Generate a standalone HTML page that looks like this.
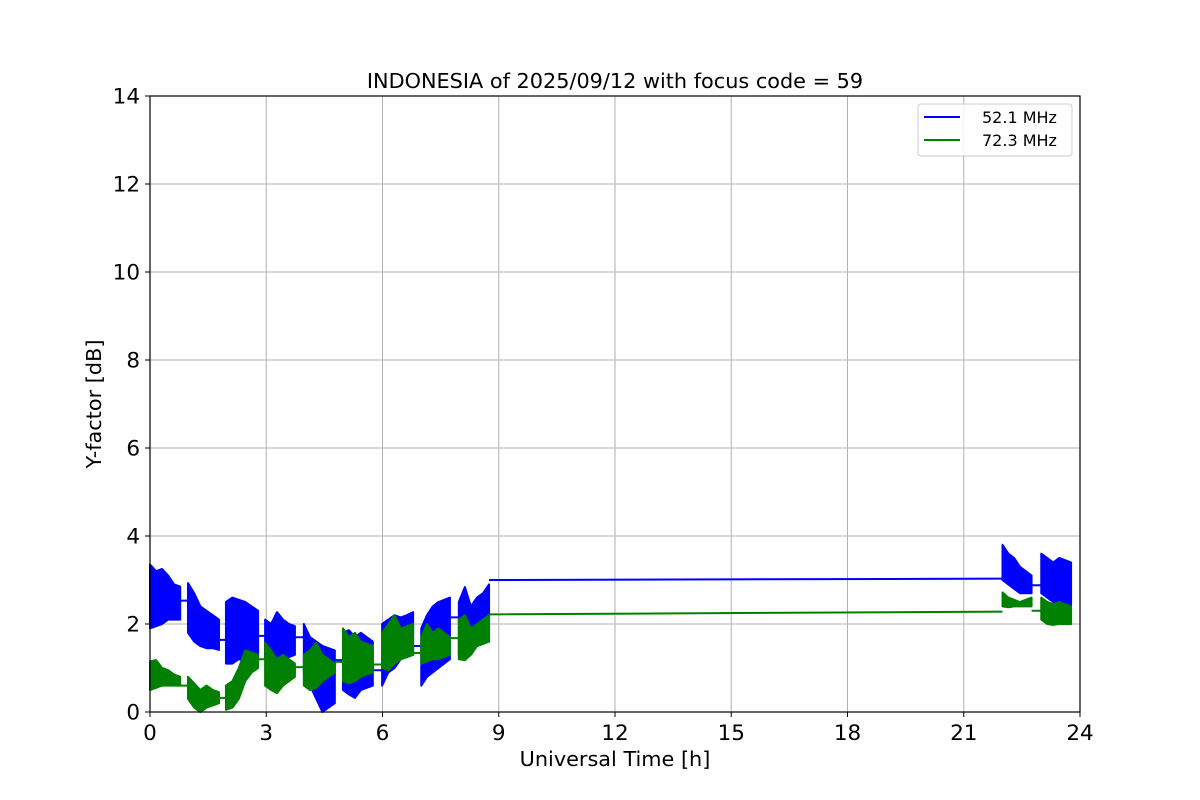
<!DOCTYPE html>
<html><head><meta charset="utf-8"><style>
body{margin:0;background:#fff;}
svg{display:block;font-family:"DejaVu Sans","Liberation Sans",sans-serif;}
</style></head><body>
<svg id="chart" width="1200" height="800" viewBox="0 0 1200 800">
<rect width="1200" height="800" fill="#fff"/>
<g id="grid"></g>
<g id="series"></g>
<rect x="150" y="96" width="930" height="616" fill="none" stroke="#000" stroke-width="1.2"/>
<g id="axes"></g>
<text x="615" y="88" font-size="20.8" text-anchor="middle">INDONESIA of 2025/09/12 with focus code = 59</text>
<text x="615" y="766" font-size="20.8" text-anchor="middle">Universal Time [h]</text>
<text x="101" y="404" font-size="20.8" text-anchor="middle" transform="rotate(-90 101 404)">Y-factor [dB]</text>
<g>
<rect x="918" y="104" width="154" height="52" rx="3" fill="#fff" fill-opacity="0.8" stroke="#ccc"/>
<line x1="924" y1="117" x2="960" y2="117" stroke="#0000ff" stroke-width="2"/>
<text x="982" y="123" font-size="16">52.1 MHz</text>
<line x1="924" y1="140" x2="960" y2="140" stroke="#008000" stroke-width="2"/>
<text x="982" y="146" font-size="16">72.3 MHz</text>
</g>
</svg>
<script>
const xTicks=[0,3,6,9,12,15,18,21,24];
const yTicks=[0,2,4,6,8,10,12,14];
const blockStart=[0,0.98,1.96,2.97,3.97,4.98,5.99,7.0,7.97,22.0,23.0];
const blockEnd=[0.78,1.78,2.79,3.74,4.77,5.75,6.79,7.74,8.75,22.75,23.77];
const blueHi=[[3.35,3.2,3.25,3.1,2.9,2.85],[2.93,2.7,2.4,2.3,2.2,2.1],[2.5,2.6,2.55,2.5,2.4,2.3],[2.1,2.0,2.27,2.1,2.0,1.95],[2.0,1.7,1.6,1.5,1.45,1.4],[1.8,1.86,1.7,1.8,1.7,1.6],[2.0,2.1,2.2,2.15,2.2,2.27],[1.9,2.2,2.4,2.5,2.55,2.6],[2.5,2.84,2.4,2.6,2.7,2.9],[3.8,3.6,3.5,3.3,3.2,3.1],[3.6,3.5,3.4,3.5,3.45,3.4]];
const blueLo=[[1.9,1.95,2.0,2.1,2.1,2.1],[1.8,1.6,1.5,1.45,1.45,1.41],[1.1,1.1,1.2,1.15,1.1,1.15],[1.2,1.1,1.15,1.2,1.25,1.3],[0.9,0.6,0.3,0.0,0.1,0.2],[0.5,0.4,0.32,0.5,0.55,0.6],[0.6,0.9,1.0,1.2,1.25,1.3],[0.6,0.8,0.9,1.0,1.1,1.2],[1.3,1.25,1.4,1.5,1.55,1.6],[3.0,2.9,2.8,2.7,2.7,2.7],[2.7,2.6,2.5,2.45,2.45,2.43]];
const blueGapFrom=[2.53,1.64,1.73,1.7,1.18,0.95,1.5,2.15,3.0,2.88];
const blueGapTo=[2.53,1.64,1.73,1.7,1.18,0.95,1.5,2.15,3.03,2.88];
const greenHi=[[1.15,1.18,1.0,0.95,0.85,0.8],[0.8,0.65,0.5,0.6,0.5,0.45],[0.6,0.7,1.0,1.4,1.35,1.3],[1.57,1.4,1.2,1.3,1.2,1.1],[1.3,1.4,1.57,1.3,1.2,1.1],[1.9,1.7,1.8,1.6,1.55,1.5],[1.8,2.0,2.2,1.9,1.95,2.0],[1.7,2.0,1.8,1.9,1.8,1.7],[2.1,2.2,1.9,2.0,2.1,2.2],[2.72,2.6,2.55,2.5,2.55,2.6],[2.6,2.5,2.45,2.5,2.45,2.4]];
const greenLo=[[0.5,0.55,0.6,0.6,0.6,0.6],[0.3,0.1,0.0,0.1,0.15,0.2],[0.05,0.1,0.3,0.7,0.9,1.0],[0.6,0.5,0.43,0.6,0.7,0.8],[0.6,0.5,0.55,0.7,0.8,0.9],[0.7,0.65,0.7,0.8,0.85,0.9],[1.0,0.95,1.1,1.2,1.25,1.3],[1.1,1.15,1.2,1.2,1.25,1.3],[1.2,1.18,1.3,1.5,1.55,1.6],[2.4,2.38,2.4,2.4,2.4,2.4],[2.1,2.0,1.98,2.0,2.0,2.0]];
const greenGapFrom=[0.6,0.32,1.2,1.02,1.14,1.08,1.34,1.68,2.22,2.3];
const greenGapTo=[0.6,0.32,1.2,1.02,1.14,1.08,1.34,1.68,2.28,2.3];

const NS='http://www.w3.org/2000/svg';
const X=t=>150+t/24*930;
const Y=v=>712-v/14*616;
function mk(tag,attrs,parent){const e=document.createElementNS(NS,tag);for(const k in attrs)e.setAttribute(k,attrs[k]);parent.appendChild(e);return e;}
const grid=document.getElementById('grid'),axes=document.getElementById('axes'),series=document.getElementById('series');
xTicks.forEach(t=>{
  const g=mk('line',{x1:X(t),x2:X(t),y1:96,y2:712,stroke:'#b0b0b0','stroke-width':1},grid);
  
  
  const tk=mk('line',{x1:X(t),x2:X(t),y1:712,y2:717,stroke:'#000'},axes);
  
  
  const tx=mk('text',{x:X(t),y:740,'font-size':21.5,'text-anchor':'middle'},axes);
  tx.textContent=t;
  
  
});
yTicks.forEach(v=>{
  const g=mk('line',{x1:150,x2:1080,y1:Y(v),y2:Y(v),stroke:'#b0b0b0','stroke-width':1},grid);
  
  
  const tk=mk('line',{x1:145,x2:150,y1:Y(v),y2:Y(v),stroke:'#000'},axes);
  
  
  const tx=mk('text',{x:140,y:Y(v)+7.5,'font-size':21.5,'text-anchor':'end'},axes);
  tx.textContent=v;
  
  
});
function drawSeries(hi,lo,gf,gt,color,name){
  let d='';
  for(let i=0;i<gf.length;i++){
    d+='M'+X(blockEnd[i])+' '+Y(gf[i])+'L'+X(blockStart[i+1])+' '+Y(gt[i]);
  }
  const ln=mk('path',{d:d,stroke:color,'stroke-width':2,fill:'none'},series);
  
  
  for(let i=0;i<blockStart.length;i++){
    const n=hi[i].length,s=blockStart[i],e=blockEnd[i];
    const pts=[];
    for(let j=0;j<n;j++){
      const t=s+(e-s)*j/(n-1);
      pts.push(X(t)+','+Y(hi[i][j]));
    }
    for(let j=n-1;j>=0;j--){
      const t=s+(e-s)*j/(n-1);
      pts.push(X(t)+','+Y(lo[i][j]));
    }
    const p=mk('polygon',{points:pts.join(' '),fill:color,stroke:color,'stroke-width':2,'stroke-linejoin':'round'},series);
    
    
  }
}
drawSeries(blueHi,blueLo,blueGapFrom,blueGapTo,'#0000ff','series-52mhz');
drawSeries(greenHi,greenLo,greenGapFrom,greenGapTo,'#008000','series-72mhz');
</script>
</body></html>
